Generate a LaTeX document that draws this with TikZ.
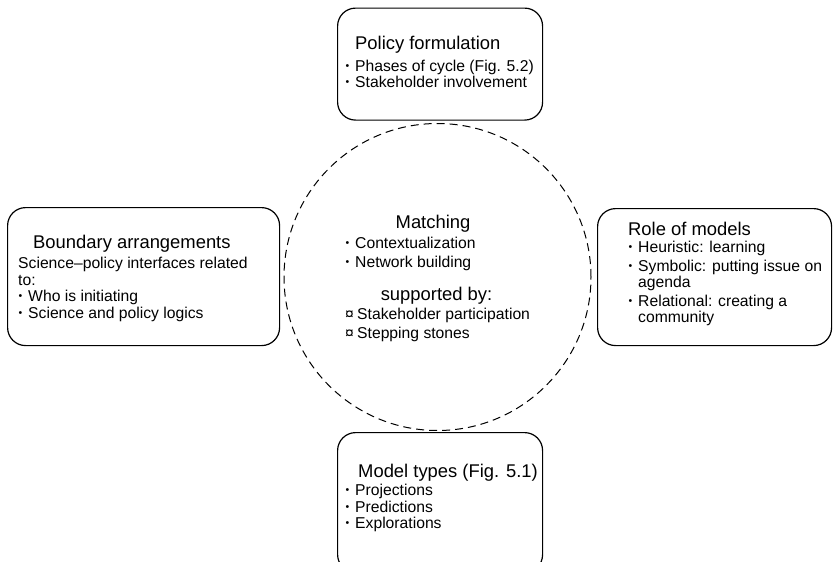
\documentclass[tikz,border=0pt]{standalone}
\usepackage{fontspec}
\setmainfont{Liberation Sans}
\newcommand\bul{\makebox[10pt][l]{\hspace{0.5pt}\raisebox{1.6pt}{\fontsize{10.5}{10.5}\selectfont •}}}
\newcommand\cur{\makebox[12pt][l]{¤}}
\tikzset{
  box/.style={draw, line width=1.2pt, rounded corners=18pt, anchor=north west, inner sep=0pt},
  head/.style={font=\fontsize{18.4}{20}\selectfont, anchor=base west, inner sep=0pt},
  body/.style={font=\fontsize{15.7}{16.5}\selectfont, anchor=base west, inner sep=0pt},
  ring/.style={draw, circle, dashed, dash pattern=on 8pt off 5pt, line width=1pt, inner sep=0pt}
}
\begin{document}
\begin{tikzpicture}[x=1pt,y=-1pt]
\useasboundingbox (0,0) rectangle (833,562);
\clip (0,0) rectangle (833,562);
% dashed circle
\node[ring, minimum size=307pt] (match) at (437.5,277) {};
% boxes
\node[box, minimum width=205pt, minimum height=112pt] (policy) at (337,7.5) {};
\node[box, minimum width=272pt, minimum height=138pt] (boundary) at (7,207) {};
\node[box, minimum width=234pt, minimum height=137pt] (role) at (597,208) {};
\node[box, minimum width=205pt, minimum height=140pt] (types) at (337,432) {};
% top box text
\node[head] (pt) at (355,49) {Policy formulation};
\node[body] (p1) at (345,71) {\bul Phases of cycle (Fig. 5.2)};
\node[body] (p2) at (345,87.5) {\bul Stakeholder involvement};
% left box text
\node[head] (bt) at (33,248) {Boundary arrangements};
\node[body] (b1) at (18,268.5) {Science–policy interfaces related};
\node[body] (b2) at (18,285) {to:};
\node[body] (b3) at (18,301.5) {\bul Who is initiating};
\node[body] (b4) at (18,318) {\bul Science and policy logics};
% right box text
\node[head] (rt) at (628,235) {Role of models};
\node[body] (r1) at (628,252.5) {\bul Heuristic: learning};
\node[body] (r2) at (628,271) {\bul Symbolic: putting issue on};
\node[body] (r3) at (638,287.5) {agenda};
\node[body] (r4) at (628,306) {\bul Relational: creating a};
\node[body] (r5) at (638,322.5) {community};
% bottom box text
\node[head] (mt) at (358,477) {Model types (Fig. 5.1)};
\node[body] (m1) at (345,495.5) {\bul Projections};
\node[body] (m2) at (345,512) {\bul Predictions};
\node[body] (m3) at (345,528.5) {\bul Explorations};
% centre text
\node[head, anchor=base] (ct) at (433,228) {Matching};
\node[body] (c1) at (345,248) {\bul Contextualization};
\node[body] (c2) at (345,267) {\bul Network building};
\node[head, anchor=base] (cs) at (436.5,300) {supported by:};
\node[body] (c3) at (345,319) {\cur Stakeholder participation};
\node[body] (c4) at (345,338) {\cur Stepping stones};
\end{tikzpicture}
\end{document}
